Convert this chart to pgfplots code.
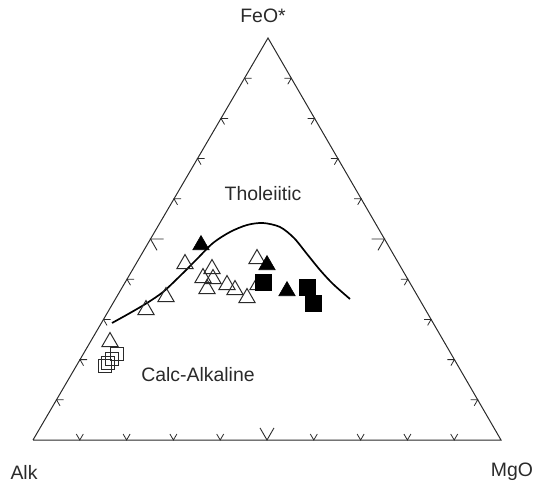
\documentclass[border=0pt]{standalone}
\usepackage{pgfplots}
\pgfplotsset{compat=1.18}
\usepackage{fontspec}
\setmainfont{Liberation Sans}
\definecolor{ink}{HTML}{2A2A2A}
\begin{document}
\begin{tikzpicture}
\begin{axis}[
  scale only axis, width=544bp, height=485bp,
  xmin=0, xmax=544, ymin=0, ymax=485, y dir=reverse,
  hide axis, clip=false,
]
\path (axis cs:0,0) rectangle (axis cs:544,485);
% frame of the ternary diagram
\addplot[ink, line width=1pt] coordinates {(33,440) (501,440) (268,38) (33,440)};
% ticks (10 % steps), small
\pgfplotsinvokeforeach{1,2,3,4,6,7,8,9}{
  \draw[ink, line width=0.8pt] (axis cs:{33+46.8*#1-3.5},{440-6}) -- (axis cs:{33+46.8*#1},440) -- (axis cs:{33+46.8*#1+3.5},{440-6});
  \draw[ink, line width=0.8pt] (axis cs:{33+23.5*#1+7},{440-40.2*#1}) -- (axis cs:{33+23.5*#1},{440-40.2*#1}) -- (axis cs:{33+23.5*#1+3.5},{440-40.2*#1+6});
  \draw[ink, line width=0.8pt] (axis cs:{501-23.3*#1-7},{440-40.2*#1}) -- (axis cs:{501-23.3*#1},{440-40.2*#1}) -- (axis cs:{501-23.3*#1-3.5},{440-40.2*#1+6});
}
% ticks at 50 %, large
\draw[ink, line width=0.9pt] (axis cs:{267-7},{440-12.1}) -- (axis cs:267,440) -- (axis cs:{267+7},{440-12.1});
\draw[ink, line width=0.9pt] (axis cs:{150.5+13},239) -- (axis cs:150.5,239) -- (axis cs:{150.5+6.5},{239+11.3});
\draw[ink, line width=0.9pt] (axis cs:{384.5-13},239) -- (axis cs:384.5,239) -- (axis cs:{384.5-6.5},{239+11.3});
% dividing curve
\addplot[black, line width=1.7pt, smooth] coordinates {
  (112,323) (130,313) (147,303) (163,292) (180,276) (197,259) (213,243)
  (230,232) (247,225) (263,223) (280,227) (294,238) (307,254) (320,270)
  (333,284) (350,299)};
% open triangles
\addplot[only marks, mark=triangle, mark size=9.5, mark options={ink, line width=1pt}] coordinates {
  (185,264) (166,297) (146,310) (212,269) (203,278) (213,279) (207,289)
  (227,285) (235,290) (247,298) (257,259) (258,285) (110,342)};
% filled triangles
\addplot[only marks, mark=triangle*, mark size=9.5, mark options={black, fill=black, line width=0.6pt}] coordinates {
  (201,245) (267,265) (287,291)};
% filled squares
\addplot[only marks, mark=square*, mark size=7.8, mark options={black, fill=black}] coordinates {
  (263,282) (307,287) (313,303)};
% open squares
\addplot[only marks, mark=square, mark size=6.6, mark options={ink, line width=0.9pt}] coordinates {
  (117,354) (112,359) (108,363) (105,366)};
% labels
\node[font=\fontsize{19.5}{22}\selectfont, text=ink] at (axis cs:263,16) {FeO*};
\node[font=\fontsize{19.5}{22}\selectfont, text=ink] at (axis cs:263,194) {Tholeiitic};
\node[font=\fontsize{19.5}{22}\selectfont, text=ink] at (axis cs:198,375) {Calc-Alkaline};
\node[font=\fontsize{19.5}{22}\selectfont, text=ink] at (axis cs:24,472) {Alk};
\node[font=\fontsize{19.5}{22}\selectfont, text=ink] at (axis cs:512,472) {MgO};
\end{axis}
\end{tikzpicture}
\end{document}
